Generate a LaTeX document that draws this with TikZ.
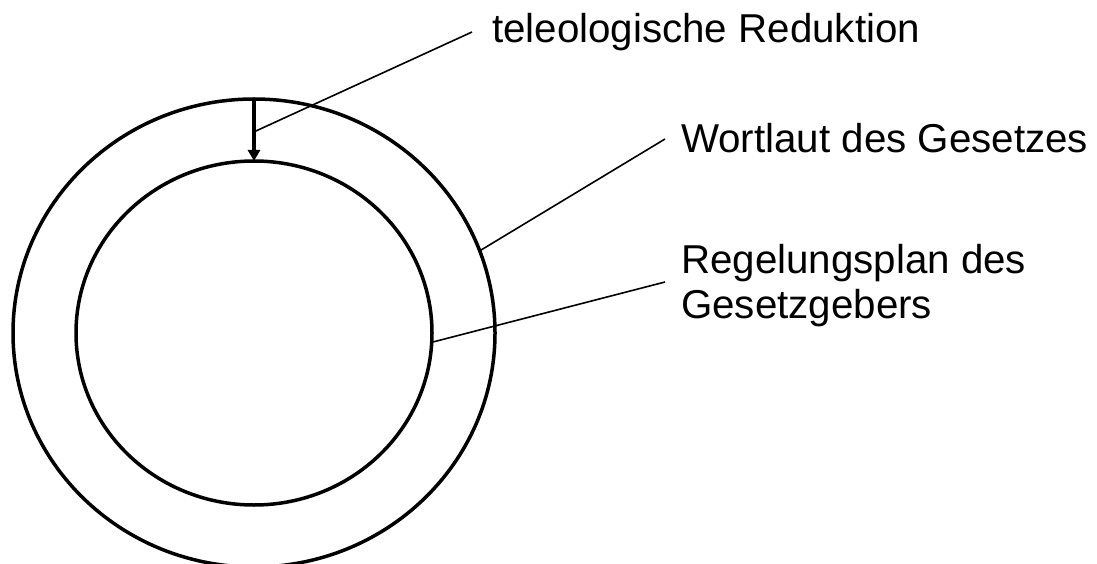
\documentclass[tikz,border=0pt]{standalone}
\usepackage{fontspec}
\setmainfont{Liberation Sans}
\usetikzlibrary{shapes.geometric,arrows.meta,calc}
\begin{document}
\begin{tikzpicture}[x=1pt,y=-1pt,
  ring/.style={draw=black,line width=3.5pt,ellipse,inner sep=0pt,outer sep=0pt},
  leader/.style={draw=black,line width=1.6pt},
  label/.style={inner sep=0pt,anchor=base west,font=\fontsize{40.3}{45}\selectfont,align=left},
  reduce/.style={draw=black,line width=3.2pt,-{Triangle[width=12pt,length=11pt]}}]
\useasboundingbox (0,0) rectangle (1097,564);
\node[ring,minimum width=482pt,minimum height=468pt] (outer) at (254,333) {};
\node[ring,minimum width=356pt,minimum height=344pt] (inner) at (254,333) {};
\draw[reduce] (outer.north) -- (inner.north);
\coordinate (mid) at ($(outer.north)!0.53!(inner.north)$);
\node[label] (tr) at (492,43) {teleologische Reduktion};
\node[label] (wg) at (681,153) {Wortlaut des Gesetzes};
\node[label] (rg) at (681,318) {Regelungsplan des\\Gesetzgebers};
\coordinate (e1) at (472,32);
\coordinate (e2) at (665,139);
\coordinate (e3) at (665,282);
\draw[leader] (mid) -- (e1);
\draw[leader] (outer.20.7) -- (e2);
\draw[leader] (inner.-3.8) -- (e3);
\end{tikzpicture}
\end{document}
